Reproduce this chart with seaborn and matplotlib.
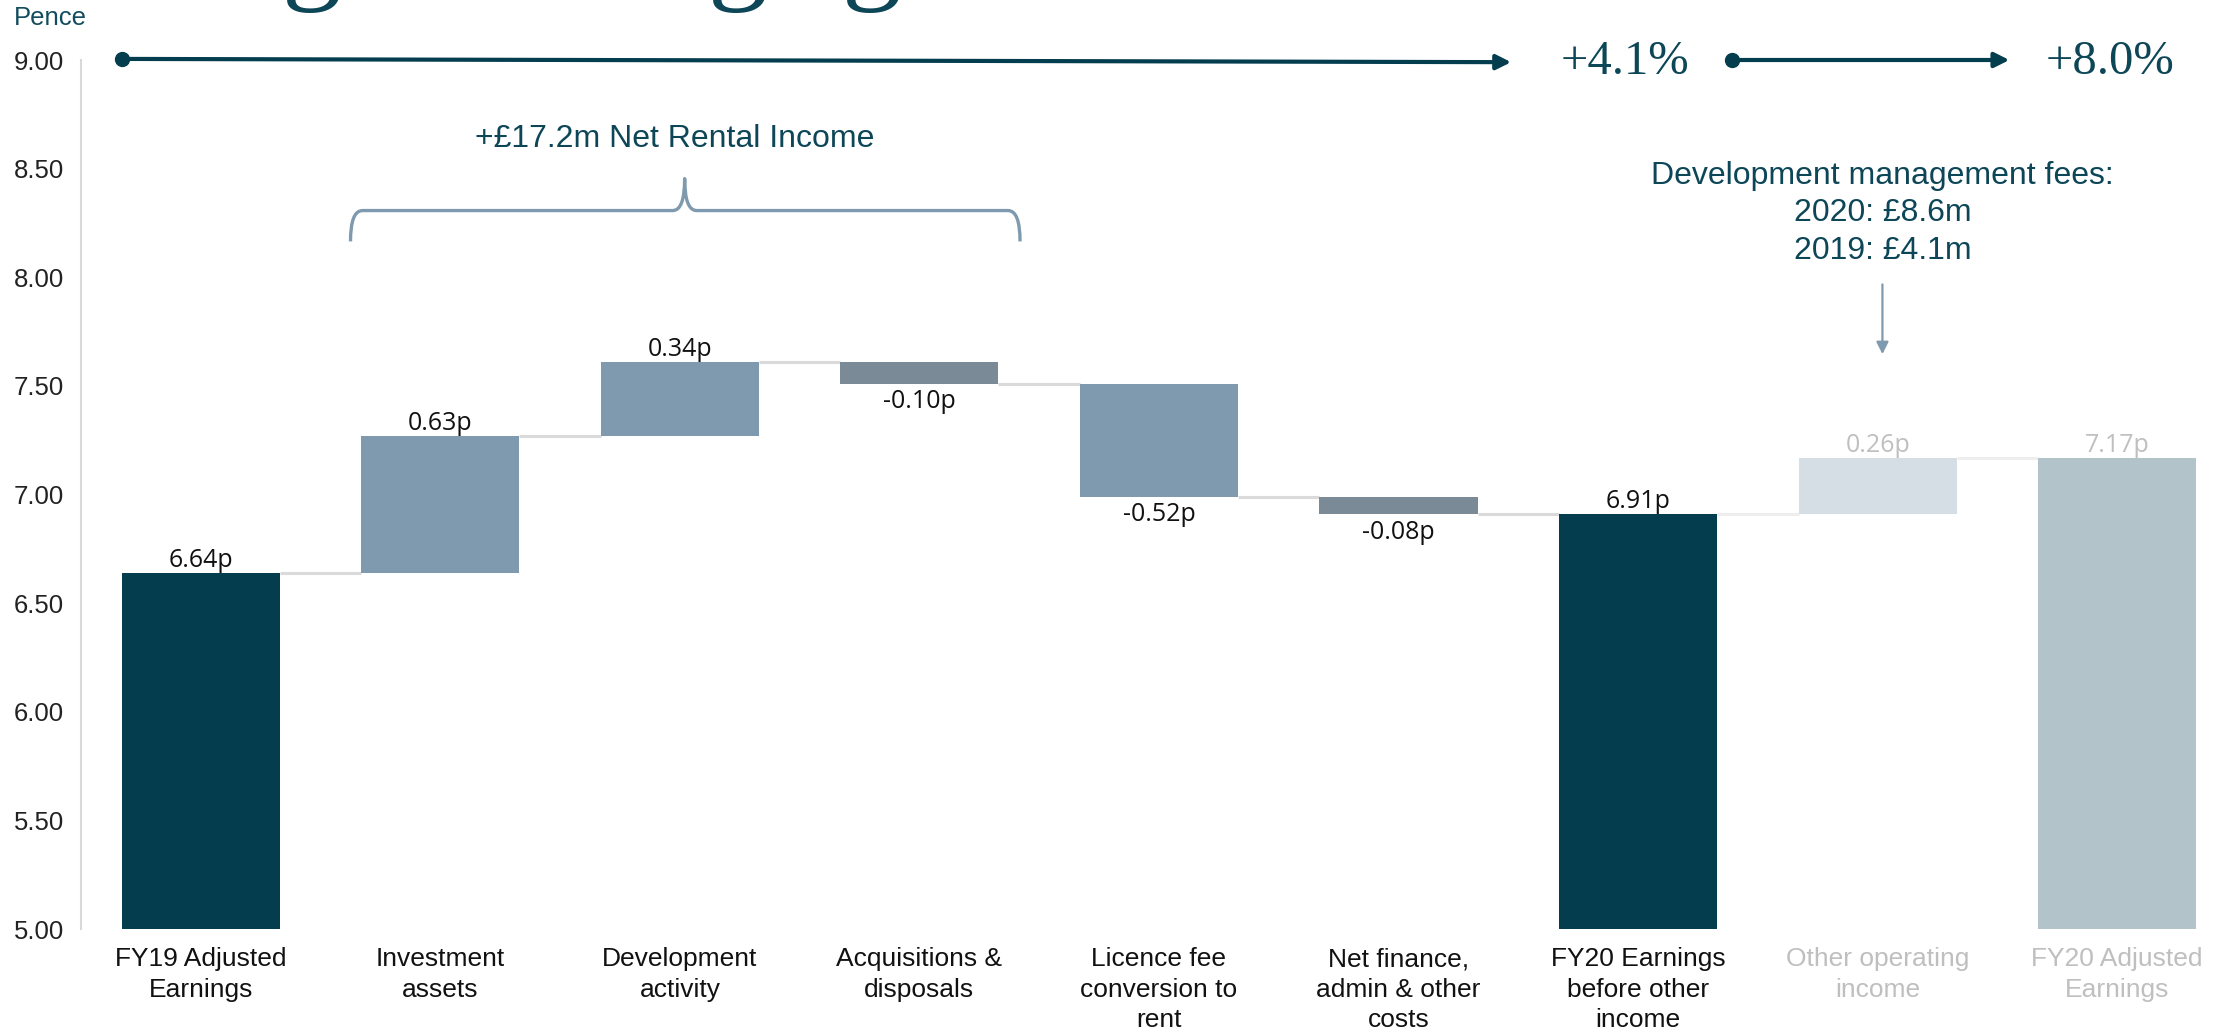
import matplotlib
matplotlib.use("Agg")
import matplotlib.pyplot as plt
from matplotlib.path import Path
from matplotlib.patches import PathPatch
import seaborn as sns
import numpy as np

# ---------------- data ----------------
categories = [
    "FY19 Adjusted\nEarnings",
    "Investment\nassets",
    "Development\nactivity",
    "Acquisitions &\ndisposals",
    "Licence fee\nconversion to\nrent",
    "Net finance,\nadmin & other\ncosts",
    "FY20 Earnings\nbefore other\nincome",
    "Other operating\nincome",
    "FY20 Adjusted\nEarnings",
]
values = [6.64, 0.63, 0.34, -0.10, -0.52, -0.08, 6.91, 0.26, 7.17]
is_total = [True, False, False, False, False, False, True, False, True]
value_labels = ["6.64p", "0.63p", "0.34p", "-0.10p", "-0.52p", "-0.08p", "6.91p", "0.26p", "7.17p"]
y_ticks = [5.00, 5.50, 6.00, 6.50, 7.00, 7.50, 8.00, 8.50, 9.00]
growth_labels = ["+4.1%", "+8.0%"]
brace_label = "+£17.2m Net Rental Income"
fees_label = "Development management fees:\n2020: £8.6m\n2019: £4.1m"

# ---------------- styles ----------------
DARK = "#033d4e"
STEEL = "#7f9aae"
GREYSTEEL = "#7a8a97"
LIGHT = "#d6dee5"
ADJ = "#b2c3c9"
TEAL_TXT = "#0d4657"
bar_colors = [DARK, STEEL, STEEL, GREYSTEEL, STEEL, GREYSTEEL, DARK, LIGHT, ADJ]
text_colors = ["#111111"] * 7 + ["#bfbfbf", "#bfbfbf"]
conn_colors = ["#dadada"] * 6 + ["#eeeeee", "#eeeeee"]

sns.set_theme(style="white")
plt.rcParams["font.family"] = ["Liberation Sans", "DejaVu Sans"]

# waterfall geometry
bottoms, heights, levels = [], [], []
run = 0.0
for v, tot in zip(values, is_total):
    if tot:
        bottoms.append(0.0)
        heights.append(v)
        run = v
    else:
        bottoms.append(min(run, run + v))
        heights.append(abs(v))
        run = run + v
    levels.append(run)
bottoms = np.array(bottoms)
heights = np.array(heights)
tops = bottoms + heights

fig = plt.figure(figsize=(22.25, 10.31), dpi=100)
ax = fig.add_axes([0.0364, 0.0989, 0.9636, 0.8429])

W = 0.66
sns.barplot(x=list(range(len(categories))), y=heights, bottom=bottoms,
            width=W, color=STEEL, saturation=1, ax=ax, zorder=3)
for patch, c in zip(ax.patches, bar_colors):
    patch.set_facecolor(c)
    patch.set_edgecolor("none")

# connectors
for i in range(len(values) - 1):
    ax.plot([i + W / 2, i + 1 - W / 2], [levels[i], levels[i]],
            color=conn_colors[i], lw=2.2, zorder=2, solid_capstyle="butt")

# value labels
for i, (v, tot) in enumerate(zip(values, is_total)):
    col = "#bfbfbf" if i >= 7 else "#111111"
    if tot or v > 0:
        ax.annotate(value_labels[i], (i, tops[i]), xytext=(0, 0), textcoords="offset points",
                    ha="center", va="bottom", fontsize=18, color=col,
                    family=["Open Sans", "DejaVu Sans"], zorder=5)
    else:
        ax.annotate(value_labels[i], (i, bottoms[i]), xytext=(0, -4), textcoords="offset points",
                    ha="center", va="top", fontsize=18, color=col,
                    family=["Open Sans", "DejaVu Sans"], zorder=5)

# axes
ax.set_xlim(-0.5, 8.45)
ax.set_ylim(5, 9)
ax.set_yticks(y_ticks, labels=[f"{t:.2f}" for t in y_ticks])
ax.set_xticks(range(len(categories)), labels=categories)
for lab, c in zip(ax.get_xticklabels(), text_colors):
    lab.set_color(c)
    lab.set_linespacing(1.35)
ax.tick_params(axis="y", length=0, pad=12, labelsize=18.5, labelcolor="#222222")
ax.tick_params(axis="x", length=0, pad=13, labelsize=19)
for s in ["top", "right", "bottom"]:
    ax.spines[s].set_visible(False)
ax.spines["left"].set_color("#d9d9d9")
ax.spines["left"].set_linewidth(1.5)
ax.set_xlabel("")
ax.set_ylabel("")
ax.grid(False)

# "Pence"
fig.text(14 / 2225, 1 - 18 / 1031, "Pence", ha="left", va="center",
         fontsize=18.5, color="#134c5e")

# top growth arrows
ax.plot([-0.33], [9.005], "o", ms=10, color=DARK, clip_on=False, zorder=6)
ax.annotate("", xy=(5.47, 8.99), xytext=(-0.33, 9.005),
            arrowprops=dict(arrowstyle="-|>", color=DARK, lw=3, mutation_scale=22,
                            shrinkA=0, shrinkB=0),
            annotation_clip=False, zorder=6)
ax.plot([6.39], [9.0], "o", ms=10, color=DARK, clip_on=False, zorder=6)
ax.annotate("", xy=(7.55, 9.0), xytext=(6.39, 9.0),
            arrowprops=dict(arrowstyle="-|>", color=DARK, lw=3, mutation_scale=22,
                            shrinkA=0, shrinkB=0),
            annotation_clip=False, zorder=6)
ax.text(5.946, 8.99, growth_labels[0], ha="center", va="center", fontsize=35,
        color=TEAL_TXT, family=["Liberation Serif", "DejaVu Serif"], clip_on=False)
ax.text(7.97, 8.99, growth_labels[1], ha="center", va="center", fontsize=35,
        color=TEAL_TXT, family=["Liberation Serif", "DejaVu Serif"], clip_on=False)

# curly brace over net rental income steps
L, R, C = 0.625, 3.42, 2.02
yb, ym, yt = 8.165, 8.307, 8.454
dx = 0.05
verts = [(L, yb), (L, ym), (L + dx, ym), (C - dx, ym), (C, ym), (C, yt),
         (C, ym), (C + dx, ym), (R - dx, ym), (R, ym), (R, yb)]
codes = [Path.MOVETO, Path.CURVE3, Path.CURVE3, Path.LINETO, Path.CURVE3, Path.CURVE3,
         Path.CURVE3, Path.CURVE3, Path.LINETO, Path.CURVE3, Path.CURVE3]
ax.add_patch(PathPatch(Path(verts, codes), facecolor="none", edgecolor=STEEL, lw=2.4,
                       capstyle="butt", joinstyle="round"))
ax.text(C - 0.04, 8.638, brace_label, ha="center", va="center", fontsize=23, color=TEAL_TXT)

# development fees note
ax.text(7.02, 8.294, fees_label, ha="center", va="center", fontsize=23,
        color=TEAL_TXT, linespacing=1.34, multialignment="center")
ax.annotate("", xy=(7.02, 7.646), xytext=(7.02, 7.967),
            arrowprops=dict(arrowstyle="-|>", color=STEEL, lw=1.6, mutation_scale=18,
                            shrinkA=0, shrinkB=0))

# fragments of the cropped slide title (descenders peeking in at the top, as in the reference)
for gx in [312, 738, 872]:
    fig.text(gx / 2225, 1 + 12 / 1031, "g", ha="center", va="baseline", fontsize=86,
             color=TEAL_TXT, family=["Liberation Serif", "DejaVu Serif"])

fig.savefig("out.png", dpi=100)
